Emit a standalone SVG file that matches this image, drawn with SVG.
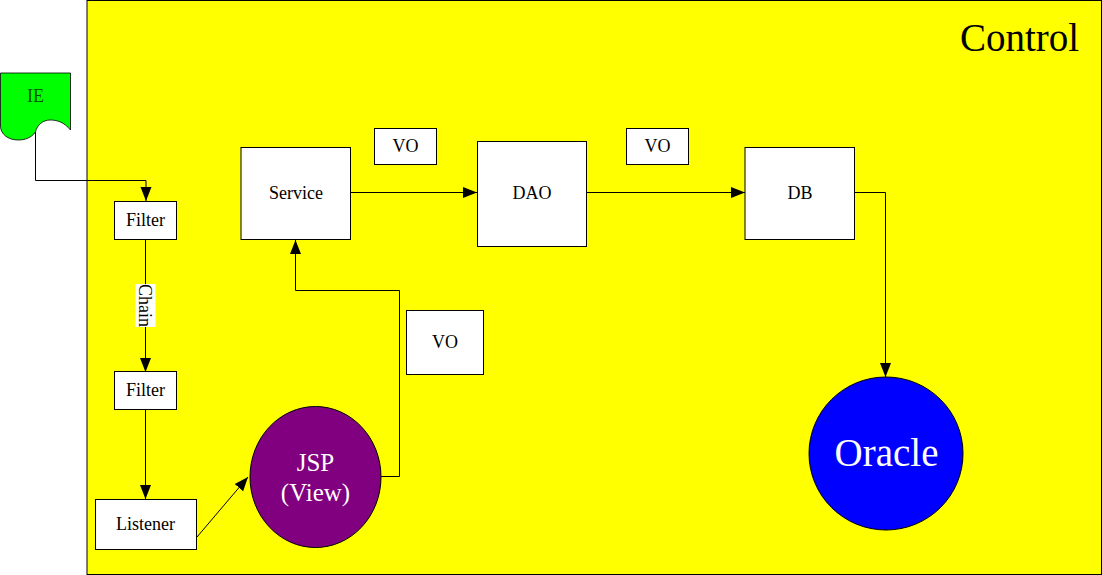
<svg xmlns="http://www.w3.org/2000/svg" width="1102" height="575" viewBox="0 0 1102 575">
<style>
text{font-family:"Liberation Serif","Times New Roman",serif;text-anchor:middle;fill:#000}
.box{fill:#fff;stroke:#000;stroke-width:1}
.t{font-size:18px}
.w{fill:#fff;font-size:25px}
.c{fill:none;stroke:#000;stroke-width:1}
</style>
<defs>
<marker id="arr" markerUnits="userSpaceOnUse" markerWidth="14" markerHeight="14" refX="14" refY="7" orient="auto"><path d="M0,1.500 L14,7 L0,12.500 Z" fill="#000"/></marker>
</defs>
<rect width="1102" height="575" fill="#fff"/>
<g id="control">
<rect x="87" y="0.500" width="1014.500" height="574" fill="#ffff00" stroke="#000"/>
<text x="1019.500" y="51" font-size="39">Control</text>
</g>
<g id="connectors">
<path class="c" d="M35.500,132 V180.500 H146 V201" marker-end="url(#arr)"/>
<path class="c" d="M145.500,240 V372" marker-end="url(#arr)"/>
<path class="c" d="M145.500,409 V499" marker-end="url(#arr)"/>
<path class="c" d="M197,537 L248,477" marker-end="url(#arr)"/>
<path class="c" d="M381,476.500 H399.500 V290.500 H295.500 V240" marker-end="url(#arr)"/>
<path class="c" d="M351,192.500 H477" marker-end="url(#arr)"/>
<path class="c" d="M587,192.500 H745" marker-end="url(#arr)"/>
<path class="c" d="M855,192.500 H885.500 V377" marker-end="url(#arr)"/>
<g id="chain-label"><rect x="135.500" y="284" width="20" height="43" fill="#fff"/>
<text class="t" transform="translate(139,305.500) rotate(90)">Chain</text></g>
</g>
<g id="ie">
<path d="M0.500,73 H70.500 V130 C64,122 57,120 50,120 C43,120 37,125 35.500,132 C31,138 25,140 18,140 C8,140 0.500,134 0.500,126 Z" fill="#00ff00" stroke="#000" stroke-width="0.800"/>
<text class="t" x="35.500" y="102" fill-opacity="0.700">IE</text>
</g>
<g id="filter1"><rect class="box" x="114.500" y="201.500" width="62" height="38"/><text class="t" x="145.500" y="226">Filter</text></g>
<g id="filter2"><rect class="box" x="114.500" y="371.500" width="62" height="38"/><text class="t" x="145.500" y="396">Filter</text></g>
<g id="listener"><rect class="box" x="95.500" y="499.500" width="101" height="50"/><text class="t" x="145.500" y="530">Listener</text></g>
<g id="jsp"><ellipse cx="315.500" cy="477" rx="65.500" ry="70.500" fill="#800080" stroke="#000"/>
<text class="w" x="315.500" y="471">JSP</text><text class="w" x="315.500" y="501">(View)</text></g>
<g id="service"><rect class="box" x="241" y="147.500" width="109.500" height="92"/><text class="t" x="296" y="199">Service</text></g>
<g id="vo1"><rect class="box" x="374.500" y="128.500" width="62" height="36"/><text class="t" x="405.500" y="152">VO</text></g>
<g id="dao"><rect class="box" x="477.500" y="141.500" width="109" height="105"/><text class="t" x="532" y="199">DAO</text></g>
<g id="vo2"><rect class="box" x="626.500" y="128.500" width="62" height="36"/><text class="t" x="657.500" y="152">VO</text></g>
<g id="db"><rect class="box" x="745" y="147.500" width="109.500" height="92"/><text class="t" x="800" y="199">DB</text></g>
<g id="vo3"><rect class="box" x="406.500" y="310.500" width="77" height="64"/><text class="t" x="445" y="348">VO</text></g>
<g id="oracle"><ellipse cx="886" cy="453.500" rx="77" ry="76.500" fill="#0000ff" stroke="#000"/>
<text x="886.500" y="466" font-size="39" style="fill:#fff">Oracle</text></g>
</svg>
